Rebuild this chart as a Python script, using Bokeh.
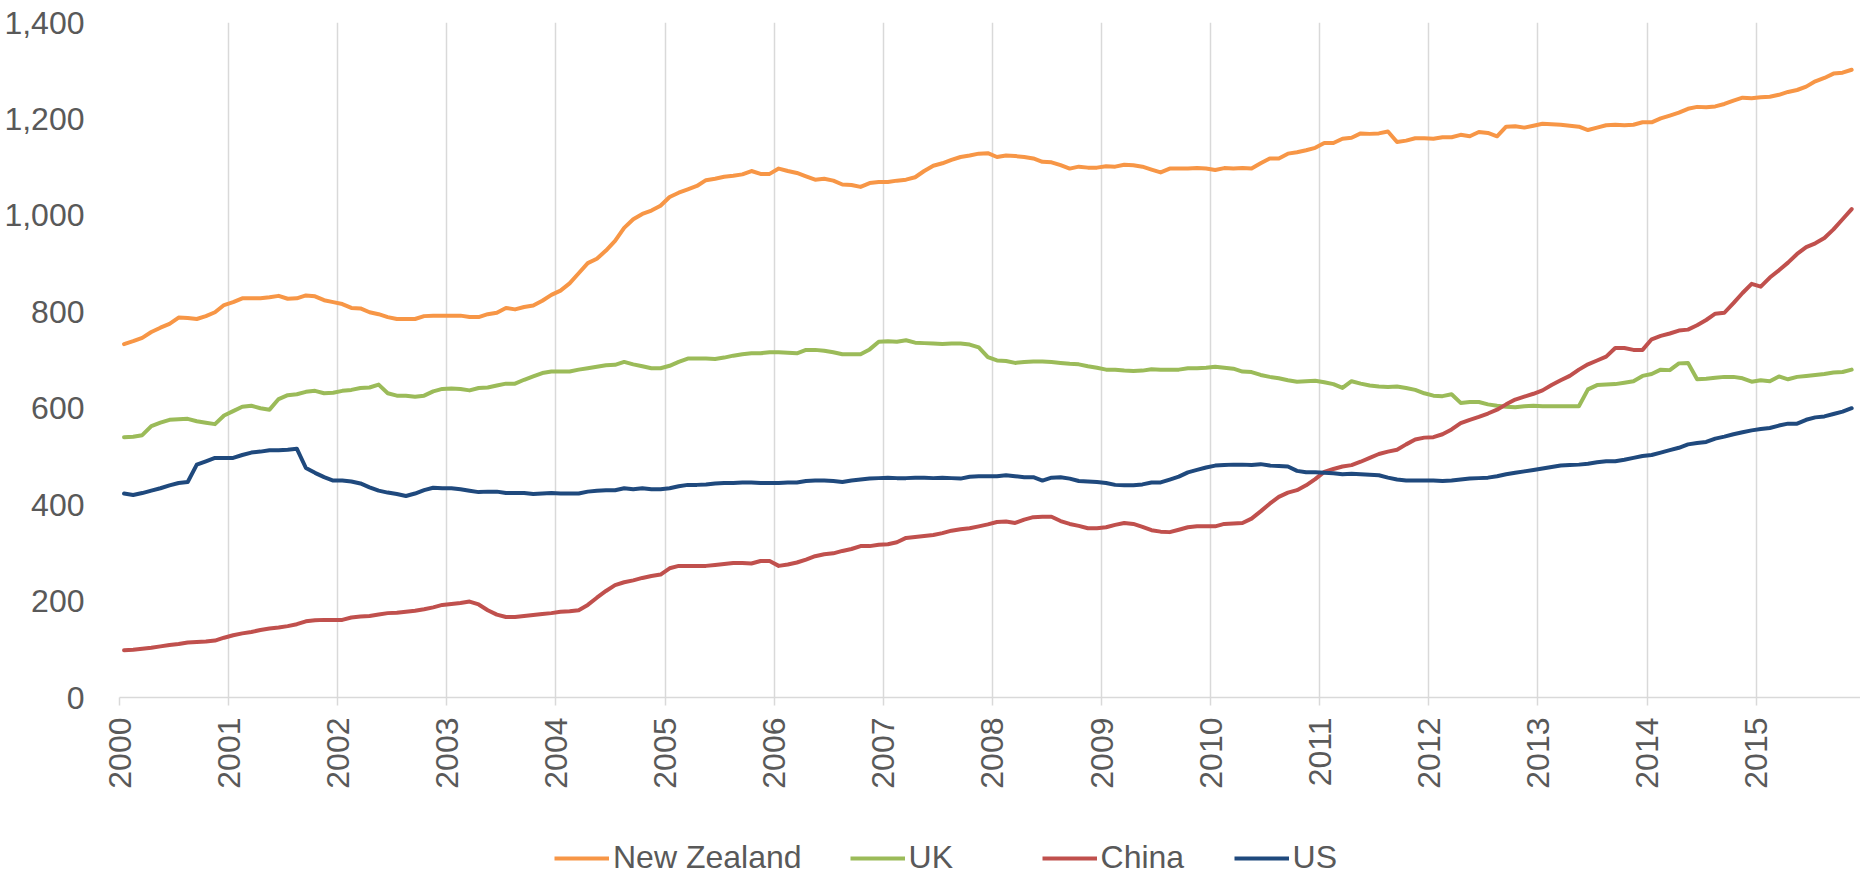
import math
from bokeh.plotting import figure
from bokeh.layouts import column
from bokeh.models import (FixedTicker, NumeralTickFormatter, Legend, LegendItem,
                          Range1d, ColumnDataSource)
from bokeh.embed import file_html
from bokeh.resources import INLINE

# ---------------- data (monthly, Jan 2000 - Nov 2015) ----------------
years = list(range(2000, 2016))
year_labels = [str(y) for y in years]
y_ticks = [0, 200, 400, 600, 800, 1000, 1200, 1400]
series_names = ["New Zealand", "UK", "China", "US"]

new_zealand = [
    733, 739, 746, 758, 767, 775, 788, 787, 785, 791, 799, 814,
    820, 828, 828, 828, 830, 833, 827, 828, 834, 832, 824, 820,
    816, 808, 807, 799, 795, 789, 785, 785, 785, 791, 792, 792,
    792, 792, 789, 789, 795, 798, 808, 805, 810, 813, 823, 835,
    844, 859, 880, 901, 910, 927, 947, 974, 992, 1003, 1010, 1020,
    1038, 1047, 1054, 1061, 1073, 1076, 1080, 1082, 1085, 1092, 1086, 1086,
    1097, 1092, 1088, 1081, 1074, 1076, 1072, 1064, 1063, 1059, 1067, 1069,
    1069, 1072, 1074, 1079, 1092, 1103, 1108, 1115, 1121, 1124, 1128, 1129,
    1121, 1124, 1123, 1121, 1118, 1111, 1110, 1104, 1097, 1101, 1099, 1099,
    1102, 1101, 1105, 1104, 1101, 1095, 1089, 1097, 1097, 1097, 1098, 1097,
    1094, 1098, 1097, 1098, 1097, 1108, 1118, 1118, 1128, 1131, 1135, 1140,
    1150, 1150, 1159, 1161, 1170, 1169, 1170, 1174, 1152, 1155, 1160, 1160,
    1159, 1162, 1162, 1167, 1164, 1173, 1171, 1164, 1184, 1185, 1182, 1186,
    1190, 1189, 1188, 1186, 1184, 1177, 1182, 1187, 1188, 1187, 1188, 1193,
    1193, 1201, 1207, 1213, 1221, 1225, 1224, 1226, 1231, 1238, 1244, 1243,
    1245, 1246, 1250, 1256, 1260, 1267, 1278, 1285, 1294, 1296, 1302,
]

uk = [
    540, 541, 544, 563, 570, 576, 577, 578, 573, 570, 567, 585,
    594, 603, 605, 600, 597, 619, 627, 629, 634, 636, 631, 632,
    636, 638, 642, 643, 649, 631, 626, 626, 624, 626, 635, 640,
    641, 640, 637, 642, 643, 647, 651, 651, 659, 666, 673, 676,
    676, 676, 680, 683, 686, 689, 690, 696, 691, 687, 683, 683,
    688, 696, 703, 703, 703, 702, 705, 709, 712, 714, 714, 716,
    716, 715, 714, 721, 721, 719, 716, 712, 712, 712, 722, 738,
    739, 738, 741, 736, 735, 734, 733, 734, 734, 732, 726, 706,
    699, 698, 694, 696, 697, 697, 696, 694, 692, 691, 687, 684,
    680, 680, 678, 677, 678, 681, 680, 680, 680, 683, 683, 684,
    686, 684, 682, 676, 675, 669, 665, 662, 658, 655, 656, 657,
    654, 650, 642, 656, 651, 647, 645, 644, 645, 642, 638, 631,
    626, 625, 629, 611, 613, 613, 608, 605, 603, 602, 604, 605,
    604, 604, 604, 604, 604, 639, 648, 649, 650, 653, 656, 667,
    671, 680, 679, 693, 694, 660, 661, 663, 665, 665, 662, 655,
    658, 656, 666, 660, 665, 667, 669, 671, 674, 675, 680,
]

china = [
    98, 99, 101, 103, 106, 109, 111, 114, 115, 116, 118, 124,
    129, 133, 136, 140, 143, 145, 148, 152, 158, 160, 161, 161,
    161, 166, 168, 169, 172, 175, 176, 178, 180, 183, 187, 192,
    194, 196, 199, 193, 181, 172, 167, 167, 169, 171, 173, 175,
    178, 179, 181, 192, 207, 221, 233, 239, 243, 248, 252, 255,
    268, 273, 273, 273, 273, 275, 277, 279, 279, 278, 283, 283,
    273, 276, 280, 286, 293, 297, 299, 304, 308, 314, 314, 317,
    318, 322, 331, 333, 335, 337, 341, 346, 349, 351, 355, 359,
    364, 365, 362, 369, 374, 375, 375, 366, 360, 356, 351, 351,
    353, 358, 362, 360, 354, 347, 344, 343, 348, 353, 355, 355,
    355, 360, 361, 362, 371, 386, 402, 416, 425, 430, 440, 453,
    468, 474, 479, 482, 489, 497, 505, 510, 514, 525, 535, 539,
    540, 546, 556, 569, 576, 582, 589, 597, 608, 618, 624, 630,
    637, 648, 658, 667, 680, 691, 699, 707, 725, 725, 721, 721,
    743, 750, 755, 761, 763, 772, 783, 796, 798, 818, 839, 858,
    852, 871, 886, 902, 920, 934, 942, 953, 971, 992, 1013,
]

us = [
    423, 420, 424, 429, 434, 440, 445, 447, 483, 490, 497, 497,
    497, 503, 508, 510, 513, 513, 514, 516, 476, 466, 457, 450,
    450, 448, 444, 436, 429, 425, 422, 418, 423, 430, 435, 434,
    434, 432, 429, 426, 427, 427, 424, 424, 424, 422, 423, 424,
    423, 423, 423, 427, 429, 430, 430, 434, 432, 434, 432, 432,
    434, 438, 441, 441, 442, 444, 445, 445, 446, 446, 445, 445,
    445, 446, 446, 449, 450, 450, 449, 447, 450, 452, 454, 455,
    456, 455, 455, 456, 456, 455, 456, 455, 454, 458, 459, 459,
    459, 461, 459, 457, 457, 450, 456, 457, 454, 449, 448, 447,
    445, 441, 440, 440, 442, 446, 446, 452, 458, 467, 472, 477,
    481, 482, 483, 483, 482, 484, 481, 480, 479, 470, 467, 467,
    466, 465, 463, 464, 463, 462, 461, 456, 452, 450, 450, 450,
    450, 449, 450, 452, 454, 455, 456, 459, 463, 466, 469, 472,
    475, 478, 481, 482, 483, 485, 488, 490, 490, 493, 497, 501,
    503, 508, 513, 518, 525, 528, 530, 537, 541, 546, 550, 554,
    557, 559, 564, 568, 568, 576, 581, 583, 588, 593, 600,
]

# month positions (each month centred inside its bin)
months = [2000 + (i + 0.5) / 12 for i in range(len(new_zealand))]

colors = ["#F79646", "#9BBB59", "#C0504D", "#1F497D"]
TEXT = "#595959"
GRID = "#D9D9D9"
FONT = "Liberation Sans"
FS = "32px"
W = 1860

# ---------------- main chart ----------------
p = figure(width=W, height=800, output_backend="svg", toolbar_location=None,
           x_range=Range1d(2000, 2015.956), y_range=Range1d(0, 1400),
           min_border_left=119, min_border_right=0, min_border_top=22,
           min_border_bottom=103)
p.outline_line_color = None
p.background_fill_color = "white"

p.xaxis.ticker = FixedTicker(ticks=years)
p.xaxis.major_label_overrides = {y: lab for y, lab in zip(years, year_labels)}
p.xaxis.major_label_orientation = math.pi / 2
p.xaxis.axis_line_color = GRID
p.xaxis.axis_line_width = 1.5
p.xaxis.major_tick_line_color = GRID
p.xaxis.major_tick_line_width = 1.5
p.xaxis.major_tick_out = 8
p.xaxis.major_tick_in = 0
p.xaxis.minor_tick_line_color = None
p.xaxis.major_label_standoff = 12
p.xaxis.major_label_text_font = FONT
p.xaxis.major_label_text_font_size = FS
p.xaxis.major_label_text_color = TEXT

p.yaxis.ticker = FixedTicker(ticks=y_ticks)
p.yaxis.formatter = NumeralTickFormatter(format="0,0")
p.yaxis.axis_line_color = None
p.yaxis.major_tick_line_color = None
p.yaxis.minor_tick_line_color = None
p.yaxis.major_label_standoff = 29
p.yaxis.major_label_text_font = FONT
p.yaxis.major_label_text_font_size = FS
p.yaxis.major_label_text_color = TEXT

p.xgrid.ticker = FixedTicker(ticks=years)
p.xgrid.grid_line_color = GRID
p.xgrid.grid_line_width = 1.5
p.ygrid.grid_line_color = None

sources = []
for name, vals, col in zip(series_names, [new_zealand, uk, china, us], colors):
    src = ColumnDataSource(dict(x=months, y=vals))
    sources.append(src)
    p.line("x", "y", source=src, line_color=col, line_width=4,
           line_join="round", line_cap="round")

# ---------------- legend strip (same series; its ranges exclude the data) ----------------
lg = figure(width=W, height=76, output_backend="svg", toolbar_location=None,
            x_axis_type=None, y_axis_type=None,
            x_range=Range1d(0, 1), y_range=Range1d(0, 1),
            min_border_left=0, min_border_right=0, min_border_top=0, min_border_bottom=0)
lg.outline_line_color = None
lg.background_fill_color = "white"

items = []
for name, src, col in zip(series_names, sources, colors):
    r = lg.line("x", "y", source=src, line_color=col, line_width=4)
    items.append(LegendItem(label=name, renderers=[r]))

legend = Legend(items=items, orientation="horizontal", location=(435, 0),
                glyph_width=55, glyph_height=30, label_standoff=4, spacing=48,
                label_width=85,
                padding=0, margin=0, border_line_color=None, background_fill_alpha=0,
                label_text_font=FONT, label_text_font_size=FS, label_text_color=TEXT)
lg.add_layout(legend)

layout = column(p, lg, spacing=0)
open("out.html", "w").write(file_html(layout, INLINE))
